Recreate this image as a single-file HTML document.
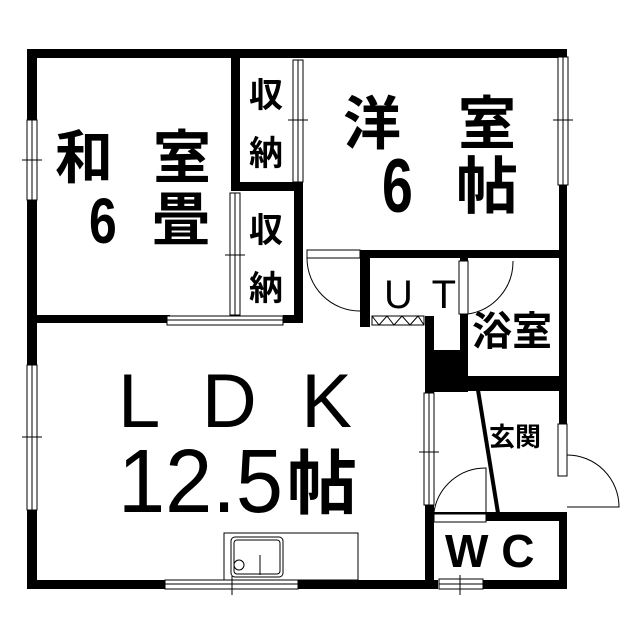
<!DOCTYPE html>
<html><head><meta charset="utf-8"><style>
html,body{margin:0;padding:0;background:#fff}
svg{display:block}
text{font-family:"Liberation Sans","Noto Sans CJK JP",sans-serif;fill:#000}
.j{font-family:"Noto Sans CJK JP",sans-serif;font-weight:bold}
</style></head><body>
<svg width="639" height="640" viewBox="0 0 639 640" xmlns="http://www.w3.org/2000/svg">
<rect width="639" height="640" fill="#fff"/>
<g fill="#000">
<rect x="27" y="49" width="540" height="9"/>
<rect x="27" y="49" width="10" height="540"/>
<rect x="559" y="49" width="8" height="375"/>
<rect x="559" y="512" width="8" height="77"/>
<rect x="27" y="580" width="140" height="9"/>
<rect x="298" y="580" width="140" height="9"/>
<rect x="482" y="580" width="85" height="9"/>
<rect x="231" y="49" width="9" height="140"/>
<rect x="231" y="182" width="72" height="9"/>
<rect x="294" y="182" width="9" height="140"/>
<rect x="27" y="315" width="143" height="8"/>
<rect x="283" y="315" width="20" height="8"/>
<rect x="360" y="250" width="207" height="8"/>
<rect x="360" y="250" width="10" height="77"/>
<rect x="425" y="316" width="9" height="40"/>
<rect x="425" y="350" width="43" height="42"/>
<rect x="460" y="258" width="8" height="130"/>
<rect x="460" y="376" width="107" height="8"/>
<rect x="425" y="382" width="142" height="9"/>
<rect x="425" y="382" width="9" height="12"/>
<rect x="425" y="505" width="9" height="84"/>
<rect x="425" y="512" width="142" height="9"/>
</g>
<g fill="#fff" stroke="#000" stroke-width="1">
<rect x="27" y="120" width="10" height="80"/>
<line x1="32" y1="120" x2="32" y2="200"/>
<rect x="27" y="365" width="10" height="145"/>
<line x1="32" y1="365" x2="32" y2="510"/>
<rect x="558" y="57" width="10" height="128"/>
<line x1="563" y1="57" x2="563" y2="185"/>
<rect x="293" y="60" width="10" height="122"/>
<line x1="298" y1="60" x2="298" y2="182"/>
<rect x="230" y="193" width="10" height="122"/>
<line x1="235" y1="193" x2="235" y2="315"/>
<rect x="167" y="316" width="116" height="9"/>
<line x1="167" y1="320" x2="283" y2="320"/>
<rect x="165" y="580" width="133" height="9"/>
<line x1="165" y1="584" x2="298" y2="584"/>
<rect x="424" y="393" width="10" height="112"/>
<line x1="429" y1="393" x2="429" y2="505"/>
<rect x="439" y="579" width="44" height="10"/>
<line x1="439" y1="584" x2="483" y2="584"/>
<rect x="558" y="424" width="9" height="52"/>
<rect x="307" y="250" width="53" height="8"/>
<rect x="459" y="261" width="9" height="53"/>
<rect x="434" y="514" width="52" height="8"/>
<rect x="372" y="316" width="52" height="9"/>
</g>
<polyline points="372,316 379,325 387,316 394,325 402,316 410,325 418,316 424,325" fill="none" stroke="#000" stroke-width="1"/>
<g stroke="#000" stroke-width="1">
<line x1="22" y1="160" x2="42" y2="160"/>
<line x1="22" y1="437" x2="42" y2="437"/>
<line x1="553" y1="120" x2="573" y2="120"/>
<line x1="288" y1="120" x2="308" y2="120"/>
<line x1="225" y1="255" x2="245" y2="255"/>
<line x1="419" y1="452" x2="439" y2="452"/>
<line x1="232" y1="576" x2="232" y2="595"/>
<line x1="460" y1="575" x2="460" y2="595"/>
</g>
<g fill="none" stroke="#000" stroke-width="1">
<path d="M307 258 A53 53 0 0 0 360 311"/>
<path d="M468 261 V314 A53 53 0 0 0 513 261"/>
<path d="M434 512 A52 52 0 0 1 486 468 V512"/>
<path d="M567 455 A52 52 0 0 1 619 507 H567"/>
</g>
<line x1="478" y1="390" x2="498" y2="513" stroke="#000" stroke-width="4"/>
<g fill="none" stroke="#000" stroke-width="1">
<rect x="224" y="533" width="134" height="47"/>
<rect x="231" y="537" width="52" height="40" rx="4"/>
<rect x="234" y="540" width="46" height="34" rx="3"/>
<circle cx="239" cy="565" r="5"/>
<line x1="260" y1="555" x2="260" y2="575"/>
</g>
<g class="j" font-size="58">
<text x="55" y="178">和</text><text x="153" y="178">室</text>
<text x="152" y="240">畳</text>
<text x="343" y="144">洋</text><text x="458" y="144">室</text>
<text x="456" y="208" font-size="62">帖</text>
</g>
<text font-weight="bold" font-size="64" transform="translate(89,243) scale(0.78,1)">6</text>
<text font-weight="bold" font-size="76" transform="translate(382,212) scale(0.73,1)">6</text>
<g class="j" font-size="34">
<text x="249" y="107">収</text><text x="249" y="165">納</text>
<text x="249" y="242">収</text><text x="249" y="300">納</text>
</g>
<text x="384" y="308" font-size="40" textLength="72" lengthAdjust="spacing">U T</text>
<text class="j" x="472" y="345" font-size="40">浴室</text>
<text class="j" x="489" y="446" font-size="26">玄関</text>
<text x="445" y="567" font-size="46" font-weight="bold">W C</text>
<text x="118" y="427" font-size="76" textLength="234" lengthAdjust="spacing">L D K</text>
<text x="118" y="512" font-size="90" textLength="165" lengthAdjust="spacingAndGlyphs">12.5</text>
<text class="j" x="287" y="508" font-size="70" font-weight="normal">帖</text>
</svg>
</body></html>
